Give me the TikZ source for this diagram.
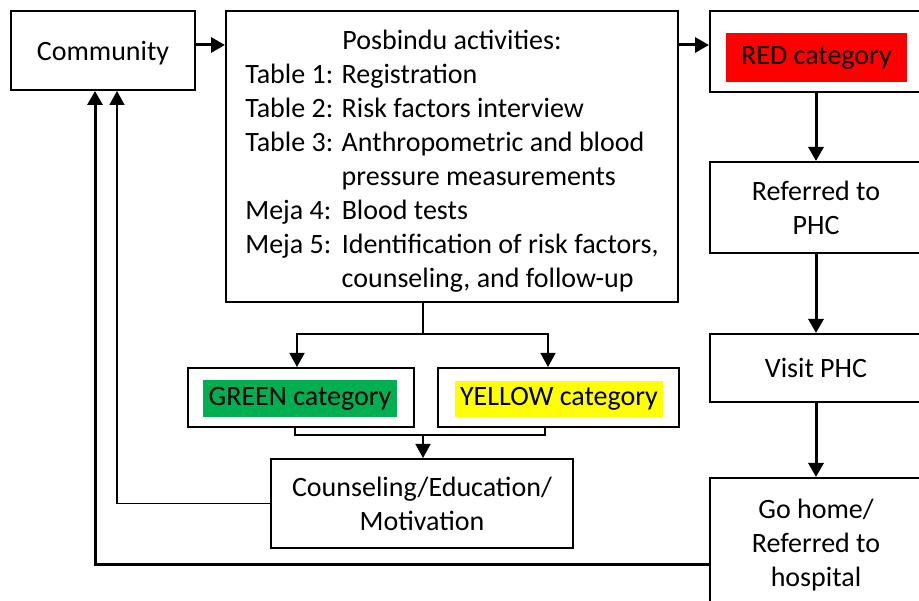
\documentclass[tikz,border=0pt]{standalone}
\usepackage{fontspec}
\setmainfont{Carlito}
\usetikzlibrary{arrows.meta,positioning}
\definecolor{catred}{HTML}{FF0000}
\definecolor{catgreen}{HTML}{00B050}
\definecolor{catyellow}{HTML}{FFFF00}

\begin{document}
\begin{tikzpicture}[x=1pt, y=-1pt,
    box/.style={draw, line width=2pt, align=center, inner sep=0pt, text depth=0pt, font=\fontsize{28}{34}\selectfont},
    tag/.style={inner sep=0pt, font=\fontsize{28}{34}\selectfont},
    arrow/.style={-{Triangle[length=14pt,width=15pt]}, line width=3pt},
    link/.style={line width=1.6pt},
    linkarrow/.style={link, -{Triangle[length=14pt,width=15pt]}}
  ]
    \path[use as bounding box, clip] (0,0) rectangle (919,601);
    \node[box, minimum width=184pt, minimum height=79pt] (community) at (103,50.5) {Community};
    \node[box, minimum width=452pt, minimum height=291pt] (posbindu) at (452,156.5) {%
      \begin{tabular}[b]{@{}l@{ }l@{}}
        \multicolumn{2}{c}{Posbindu activities:}\\
        Table 1: & Registration\\
        Table 2: & Risk factors interview\\
        Table 3: & Anthropometric and blood\\
                 & pressure measurements\\
        Meja 4:  & Blood tests\\
        Meja 5:  & Identification of risk factors,\\
                 & counseling, and follow-up
      \end{tabular}};
    \node[box, minimum width=212pt, minimum height=81pt] (redbox) at (816,51.5) {};
    \node[tag, fill=catred, minimum width=181pt, minimum height=49pt] (redtag) at (816.5,57.5) {RED category};
    \node[box, minimum width=212pt, minimum height=91pt] (referred) at (816,207.5) {Referred to\\PHC};
    \node[box, minimum width=212pt, minimum height=68pt] (visit) at (816,368) {Visit PHC};
    \node[box, minimum width=212pt, minimum height=130pt] (gohome) at (816,543) {Go home/\\Referred to\\hospital};
    \node[box, minimum width=226pt, minimum height=59pt] (green) at (301,397.5) {};
    \node[tag, fill=catgreen, minimum width=194pt, minimum height=37pt] (greentag) at (300,398.5) {GREEN category};
    \node[box, minimum width=241pt, minimum height=59pt] (yellow) at (558.5,397.5) {};
    \node[tag, fill=catyellow, minimum width=208pt, minimum height=36pt] (yellowtag) at (559,399) {YELLOW category};
    \node[box, minimum width=302pt, minimum height=89pt] (counsel) at (422,503.5) {Counseling/Education/\\Motivation};
    % helper points for the bends
    \coordinate (toprow) at (0,45);
    \coordinate (fork) at (423,334);
    \coordinate (merge) at (423,435);
    \coordinate (backlow) at (95,564);
    \coordinate (backhigh) at (117,505);
    \draw[arrow] (community.east |- toprow) -- (posbindu.west |- toprow);
    \draw[arrow] (posbindu.east |- toprow) -- (redbox.west |- toprow);
    \draw[arrow] (redbox.south) -- (referred.north);
    \draw[arrow] (referred.south) -- (visit.north);
    \draw[arrow] (visit.south) -- (gohome.north);
    \draw[link] (posbindu.south -| fork) -- (fork);
    \draw[linkarrow] (fork) -| ([xshift=-4pt]green.north);
    \draw[linkarrow] (fork) -| ([xshift=-10.5pt]yellow.north);
    \draw[link] ([xshift=-6pt]green.south) |- (merge) -| ([xshift=-13.5pt]yellow.south);
    \draw[linkarrow] (merge) -- (merge |- counsel.north);
    \draw[linkarrow] (counsel.west) -| (community.south -| backhigh);
    \draw[arrow] (gohome.west |- backlow) -| (community.south -| backlow);
\end{tikzpicture}
\end{document}
